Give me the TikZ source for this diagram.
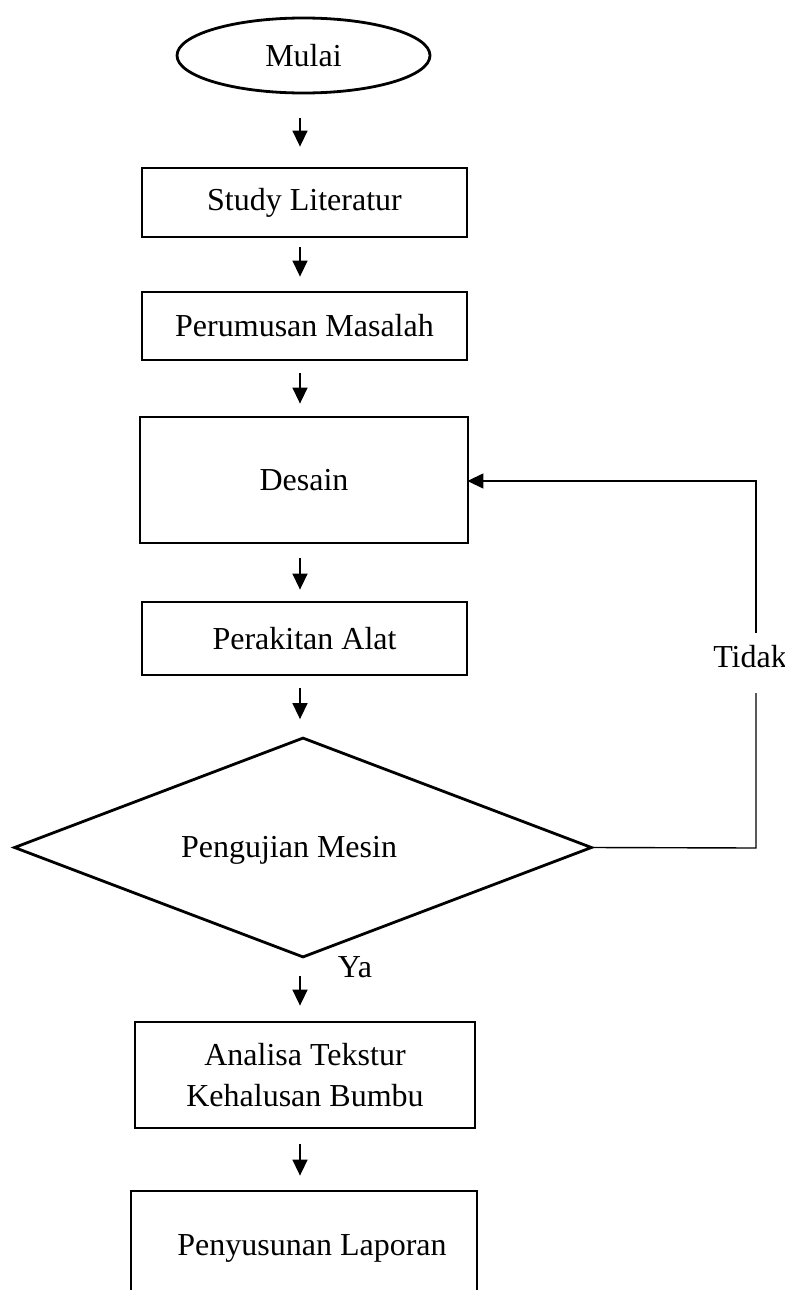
\documentclass[tikz,border=0pt]{standalone}
\usepackage{fontspec}
\setmainfont{Liberation Serif}
\usetikzlibrary{shapes.geometric,arrows.meta}
\begin{document}
\begin{tikzpicture}[x=0.5pt,y=-0.5pt,
  txt/.style={font=\fontsize{16}{20.5}\selectfont, inner sep=0pt, align=center},
  boxnode/.style={draw, line width=1.4pt, inner sep=0pt, align=center, font=\fontsize{16}{20.5}\selectfont},
  arr/.style={line width=0.75pt, -{Triangle[width=7.5pt,length=8pt]}},
  loopline/.style={line width=0.7pt}
]
\useasboundingbox (0,0) rectangle (785,1290);
\clip (0,0) rectangle (785,1290);
\fill[white] (0,0) rectangle (785,1290);

\node[boxnode, ellipse, minimum width=126.5pt, minimum height=37.5pt] (mulai) at (303.5,55.5) {Mulai};
\node[boxnode, minimum width=162.5pt, minimum height=34.5pt] (study) at (304.5,202.5) {Study Literatur};
\node[boxnode, minimum width=162.5pt, minimum height=34pt] (rumus) at (304.5,326) {Perumusan Masalah};
\node[boxnode, minimum width=164pt, minimum height=63pt] (desain) at (304,480) {Desain};
\node[boxnode, minimum width=162.5pt, minimum height=36.5pt] (rakit) at (304.5,638.5) {Perakitan Alat};
\node[draw, line width=1.4pt, diamond, inner sep=0pt, minimum width=289pt, minimum height=110pt] (uji) at (303,847.5) {};
\node[txt] (ujitext) at (289,850) {Pengujian Mesin};
\node[txt] (ya) at (355,967) {Ya};
\node[boxnode, minimum width=170pt, minimum height=53pt] (analisa) at (305,1075) {Analisa Tekstur\\Kehalusan Bumbu};
\node[draw, line width=1.4pt, inner sep=0pt, minimum width=173pt, minimum height=65pt] (lapor) at (304,1256) {};
\node[txt] (laportext) at (312,1248) {Penyusunan Laporan};
\node[txt] (tidak) at (750,657) {Tidak};

\coordinate (ax) at (300,0);
\coordinate (c1) at (756,848);
\coordinate (c2) at (756,693);
\coordinate (c3) at (756,633);
\coordinate (c4) at (756,481);

\draw[arr, shorten <=12pt, shorten >=10pt] (mulai.south -| ax) -- (study.north -| ax);
\draw[arr, shorten <=4.5pt, shorten >=7pt] (study.south -| ax) -- (rumus.north -| ax);
\draw[arr, shorten <=6pt, shorten >=6pt] (rumus.south -| ax) -- (desain.north -| ax);
\draw[arr, shorten <=7pt, shorten >=5.5pt] (desain.south -| ax) -- (rakit.north -| ax);
\draw[arr, shorten <=6pt, shorten >=8.5pt] (rakit.south -| ax) -- (uji.north -| ax);
\draw[arr, shorten <=8.5pt, shorten >=7.5pt] (uji.south -| ax) -- (analisa.north -| ax);
\draw[arr, shorten <=7.5pt, shorten >=7pt] (analisa.south -| ax) -- (lapor.north -| ax);

\draw[loopline] (uji.east) -- (c1) -- (c2);
\draw[loopline, -{Triangle[width=7.5pt,length=8pt]}, shorten >=-1pt] (c3) -- (c4) -- (desain.east |- c4);
\end{tikzpicture}
\end{document}
